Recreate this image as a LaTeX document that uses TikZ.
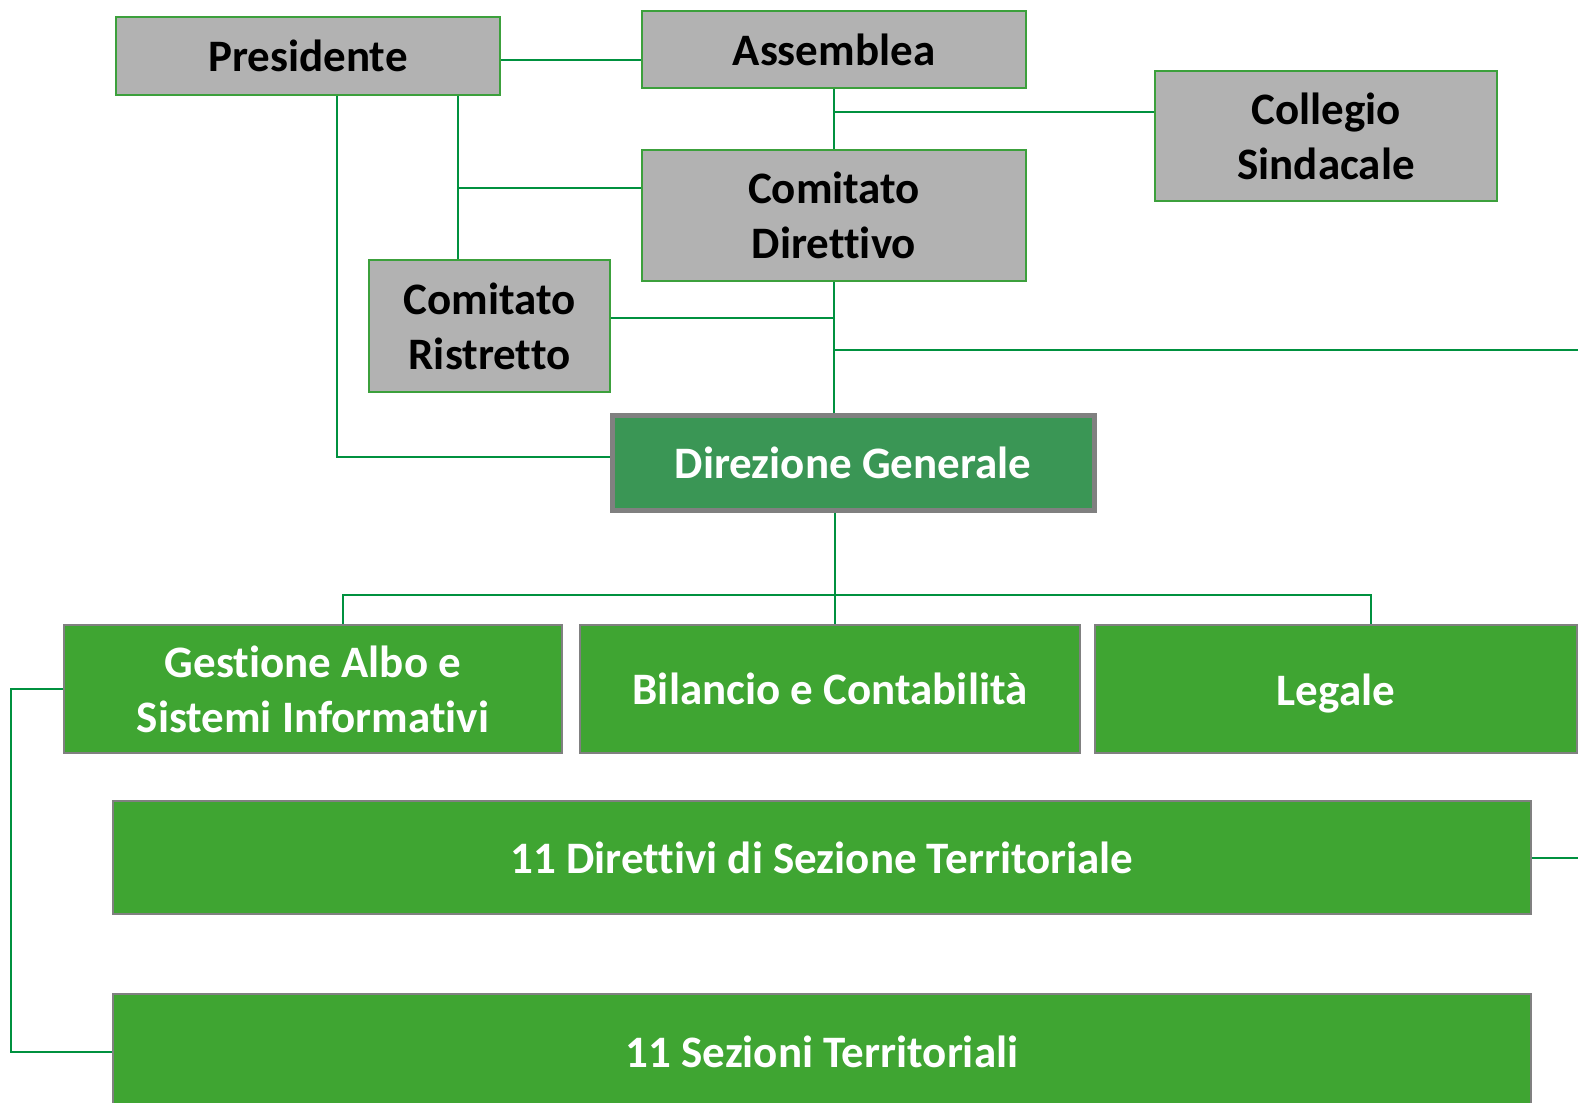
\documentclass[tikz,border=0pt]{standalone}
\usepackage{fontspec}
\setmainfont{Carlito}[Ligatures=NoCommon]
\definecolor{boxgrey}{RGB}{178,178,178}
\definecolor{boxgreen}{RGB}{60,160,60}
\definecolor{linegreen}{RGB}{0,145,63}
\definecolor{lowgreen}{RGB}{63,165,50}
\definecolor{dirgreen}{RGB}{58,150,85}
\definecolor{edgegrey}{RGB}{128,128,128}
\tikzset{
  greybox/.style={rectangle, fill=boxgrey, draw=boxgreen, line width=2pt, text=black, align=center, inner sep=0pt,
    font=\bfseries\fontsize{45}{55}\selectfont},
  greenbox/.style={rectangle, fill=lowgreen, draw=edgegrey, line width=2pt, text=white, align=center, inner sep=0pt,
    font=\bfseries\fontsize{45}{55}\selectfont},
  dirbox/.style={rectangle, fill=dirgreen, draw=edgegrey, line width=5pt, text=white, align=center, inner sep=0pt,
    font=\bfseries\fontsize{45}{55}\selectfont},
  conn/.style={draw=linegreen, line width=2pt}
}
\begin{document}
\begin{tikzpicture}[x=1pt,y=-1pt]
\useasboundingbox[fill=white] (0,0) rectangle (1578,1102);
\begin{scope}
\clip (0,0) rectangle (1578,1102);
\coordinate (b1) at (835,112);
\coordinate (b2) at (458,188);
\coordinate (b3) at (835,318);
\coordinate (b4) at (835,350);
\coordinate (r1) at (1578,350);
\coordinate (b5) at (835,595);

\node[greybox, minimum width=384pt, minimum height=78pt] (pres) at (308,56) {Presidente};
\node[greybox, minimum width=384pt, minimum height=77pt] (assem) at (834,49.5) {Assemblea};
\node[greybox, minimum width=342pt, minimum height=130pt] (coll) at (1326,136) {Collegio\\Sindacale};
\node[greybox, minimum width=384pt, minimum height=131pt] (cdir) at (834,215.5) {Comitato\\Direttivo};
\node[greybox, minimum width=241pt, minimum height=132pt] (ris) at (489.5,326) {Comitato\\Ristretto};
\node[dirbox, minimum width=482pt, minimum height=95pt] (dg) at (853,462.5) {Direzione Generale};
\node[greenbox, minimum width=498pt, minimum height=128pt] (ges) at (313,689) {Gestione Albo e\\Sistemi Informativi};
\node[greenbox, minimum width=500pt, minimum height=128pt] (bil) at (830,689) {Bilancio e Contabilità};
\node[greenbox, minimum width=482pt, minimum height=128pt, text height=32pt, text depth=0pt] (leg) at (1336,689) {Legale};
\node[greenbox, minimum width=1418pt, minimum height=113pt] (dtv) at (822,857.5) {11 Direttivi di Sezione Territoriale};
\node[greenbox, minimum width=1418pt, minimum height=116pt] (sez) at (822,1052) {11 Sezioni Territoriali};

\draw[conn] ([yshift=-4pt]pres.east) -- ([yshift=-4pt]pres.east -| assem.west);
\draw[conn] (assem.south) -- (cdir.north);
\draw[conn] (b1) -- (b1 -| coll.west);
\draw[conn] ([xshift=29pt]pres.south) |- ([yshift=6pt]dg.west);
\draw[conn] ([xshift=150pt]pres.south) -- ([xshift=150pt]pres.south |- ris.north);
\draw[conn] (b2) -- (b2 -| cdir.west);
\draw[conn] (cdir.south) -- (cdir.south |- dg.north);
\draw[conn] (b3) -- (b3 -| ris.east);
\draw[conn] (b4) -- (r1);
\draw[conn] (dg.south -| b5) -- (bil.north -| b5);
\draw[conn] ([xshift=30pt]ges.north) |- (b5) -| ([xshift=35pt]leg.north);
\draw[conn] (ges.west) -- ++(-52,0) |- (sez.west);
\draw[conn] (dtv.east) -- (dtv.east -| r1);
\end{scope}
\end{tikzpicture}
\end{document}
